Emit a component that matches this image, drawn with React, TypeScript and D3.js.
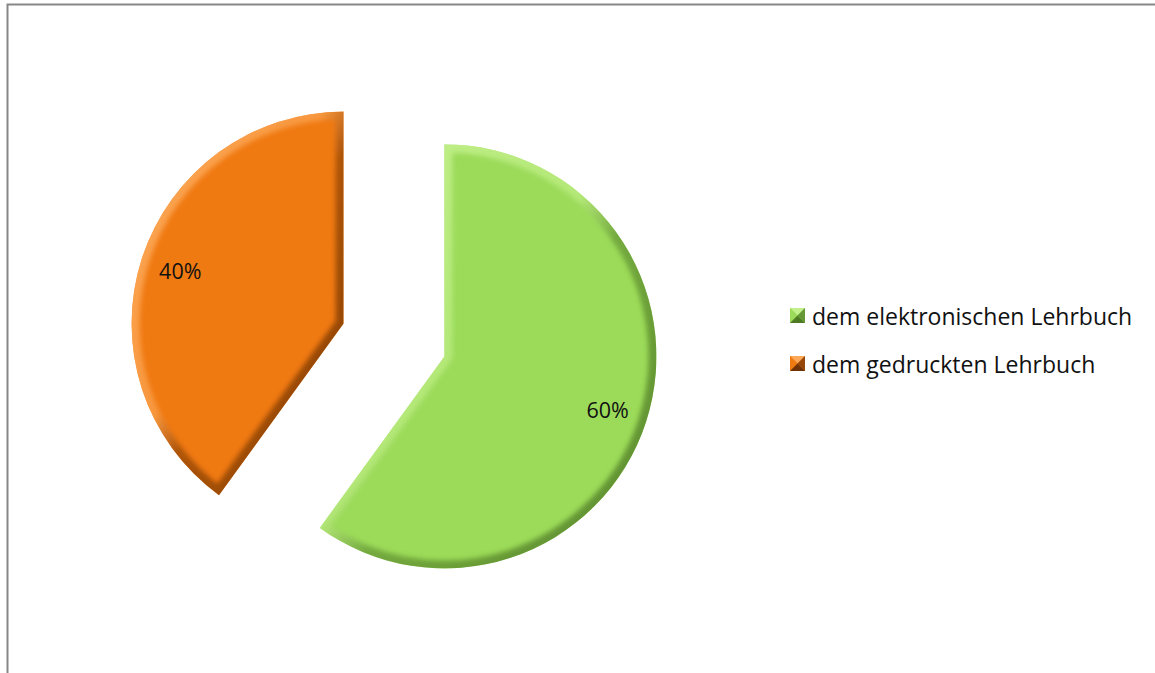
import React from "react";
import * as d3 from "d3";

const categories = ["dem elektronischen Lehrbuch", "dem gedruckten Lehrbuch"];
const values = [60, 40];
const labels = ["60%", "40%"];
const colors = ["#9CDB5A", "#F07A12"];
const darkColors = ["#4E7A24", "#6E3206"];
const lightColors = ["#CBF596", "#FFB46A"];

const W = 1155;
const H = 673;
const cx = 394;
const cy = 340;
const R = 212;
const explode = 53;

export default function App() {
  const pie = d3.pie<number>().sort(null).value((d) => d)(values);
  const arc = d3.arc<any>().innerRadius(0).outerRadius(R);
  const labelArc = d3.arc<any>().innerRadius(R * 0.81).outerRadius(R * 0.81);
  const m = 15;

  return (
    <svg width={W} height={H} style={{ position: "absolute", left: 0, top: 0, background: "#fff" }}>
      <defs>
        {pie.map((p, i) => (
          <React.Fragment key={i}>
            <clipPath id={`clip${i}`}>
              <path d={arc(p) || ""} />
            </clipPath>
            <linearGradient id={`bev${i}`} x1="0" y1="0" x2="1" y2="1" gradientUnits="objectBoundingBox">
              <stop offset="0" stopColor={lightColors[i]} />
              <stop offset="0.45" stopColor={lightColors[i]} stopOpacity="0.6" />
              <stop offset="0.55" stopColor={darkColors[i]} stopOpacity="0.6" />
              <stop offset="1" stopColor={darkColors[i]} />
            </linearGradient>
          </React.Fragment>
        ))}
        <filter id="blur" x="-10%" y="-10%" width="120%" height="120%">
          <feGaussianBlur stdDeviation="2.5" />
        </filter>
      </defs>
      <rect x={7.5} y={4.5} width={W + 10} height={H + 10} fill="none" stroke="#878787" strokeWidth={2} />
      {pie.map((p, i) => {
        const mid = (p.startAngle + p.endAngle) / 2;
        const dx = Math.sin(mid) * explode;
        const dy = -Math.cos(mid) * explode;
        const [lx, ly] = labelArc.centroid(p);
        return (
          <g key={i} transform={`translate(${cx + dx},${cy + dy})`}>
            <path d={arc(p) || ""} fill={colors[i]} />
            <g clipPath={`url(#clip${i})`}>
              <path
                d={arc(p) || ""}
                fill="none"
                stroke={`url(#bev${i})`}
                strokeWidth={16}
                strokeLinejoin="round"
                filter="url(#blur)"
                opacity={0.85}
              />
            </g>
            <text
              x={lx}
              y={ly}
              textAnchor="middle"
              dominantBaseline="central"
              fontFamily="'Open Sans', sans-serif"
              fontSize={21.5}
              fill="#111"
            >
              {labels[i]}
            </text>
          </g>
        );
      })}
      {categories.map((c, i) => (
        <g key={c} transform={`translate(790,${316 + i * 48})`}>
          <rect x={0} y={-8} width={m} height={m} fill={colors[i]} />
          <polygon points={`0,-8 ${m},-8 ${m / 2},${-8 + m / 2}`} fill={lightColors[i]} opacity={0.8} />
          <polygon points={`0,-8 0,${m - 8} ${m / 2},${-8 + m / 2}`} fill={colors[i]} />
          <polygon points={`${m},-8 ${m},${m - 8} ${m / 2},${-8 + m / 2}`} fill={darkColors[i]} opacity={0.7} />
          <polygon points={`0,${m - 8} ${m},${m - 8} ${m / 2},${-8 + m / 2}`} fill={darkColors[i]} />
          <text
            x={22}
            y={0}
            dominantBaseline="central"
            fontFamily="'Open Sans', sans-serif"
            fontSize={23}
            fill="#111"
          >
            {c}
          </text>
        </g>
      ))}
    </svg>
  );
}
